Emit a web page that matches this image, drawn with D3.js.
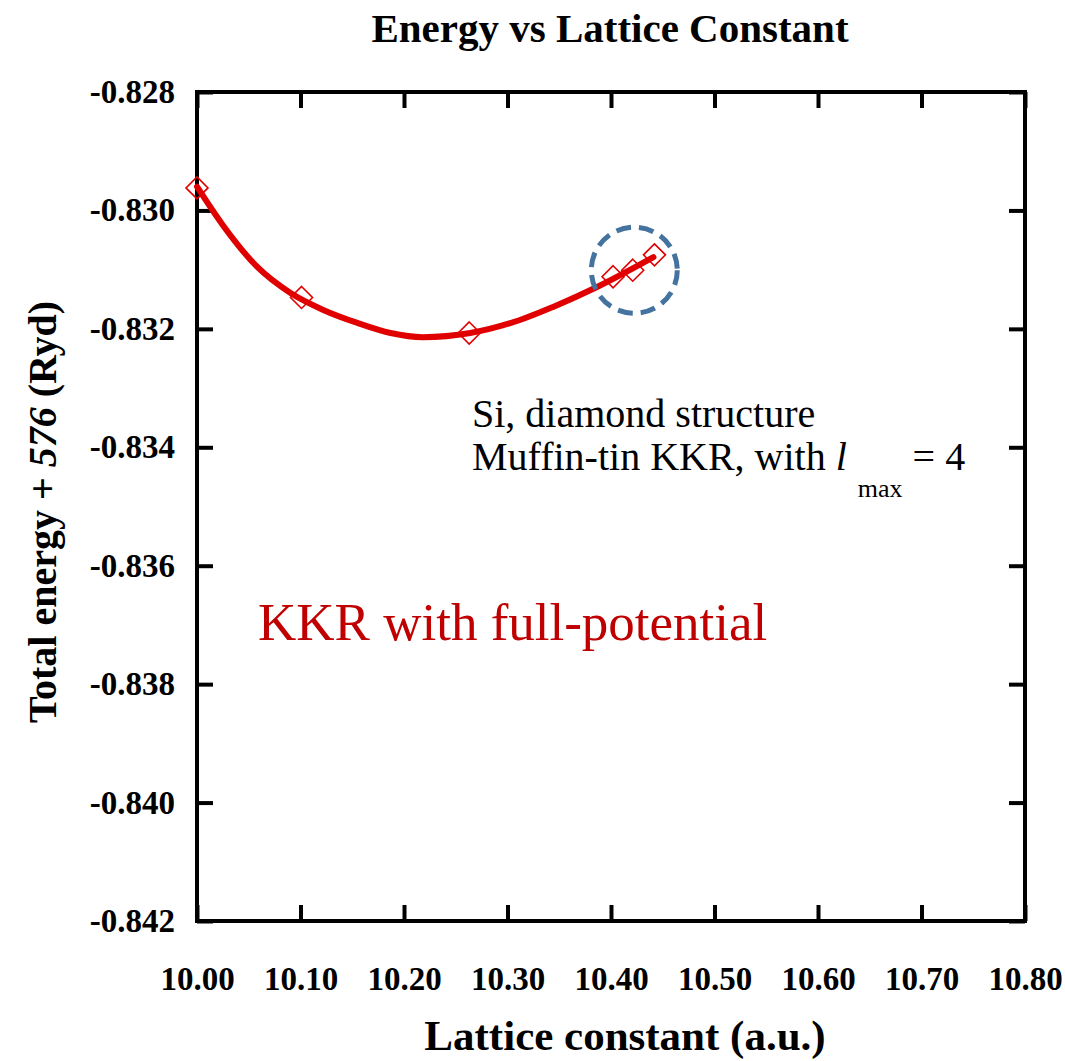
<!DOCTYPE html>
<html>
<head>
<meta charset="utf-8"/>
<title>Energy vs Lattice Constant</title>
<script src="https://d3js.org/d3.v7.min.js"></script>
<style>
  body { margin: 0; background: #fff; }
</style>
</head>
<body>
<svg width="1065" height="1061"></svg>
<script>
var SERIF = "Liberation Serif";

// calculated points (KKR full-potential)
var latticeA = [10.000, 10.101, 10.263, 10.402, 10.421, 10.442];
var energyE = [-0.82962, -0.83147, -0.83207, -0.83112, -0.83101, -0.83075];

// fitted curve
var fitA = [10.000, 10.025, 10.058, 10.090, 10.122, 10.155, 10.187, 10.218, 10.264, 10.312, 10.344, 10.387, 10.441];
var fitE = [-0.82960, -0.83025, -0.83095, -0.83139, -0.83168, -0.83190, -0.83207, -0.83214, -0.83207, -0.83185, -0.83163, -0.83129, -0.83079];

var xTicks = [10.0, 10.1, 10.2, 10.3, 10.4, 10.5, 10.6, 10.7, 10.8];
var yTicks = [-0.828, -0.830, -0.832, -0.834, -0.836, -0.838, -0.840, -0.842];

// highlighted region (centre in data units)
var circA = 10.4225, circE = -0.83101;

var margin = {top: 92, left: 197},
    width = 1025 - margin.left,
    height = 921 - margin.top;

var svg = d3.select("svg");
var g = svg.append("g")
    .attr("transform", "translate(" + margin.left + "," + margin.top + ")");

var x = d3.scaleLinear().domain([10.0, 10.8]).range([0, width]);
var y = d3.scaleLinear().domain([-0.842, -0.828]).range([height, 0]);

function styleAxis(sel) {
  sel.select(".domain").remove();
  sel.selectAll(".tick line").attr("stroke", "#000").attr("stroke-width", 4);
  sel.selectAll(".tick text")
    .style("font-family", SERIF)
    .style("font-weight", "bold")
    .style("font-size", "33px")
    .attr("fill", "#000");
}

function fmt(p) {
  return function(d) { return d3.format(p)(d).replace("\u2212", "-"); };
}

g.append("g")
  .attr("transform", "translate(0," + height + ")")
  .call(d3.axisBottom(x).tickValues(xTicks).tickSize(-16).tickPadding(46).tickFormat(fmt(".2f")))
  .call(styleAxis);
g.append("g")
  .call(d3.axisTop(x).tickValues(xTicks).tickSize(-16).tickFormat(""))
  .call(styleAxis);
g.append("g")
  .call(d3.axisLeft(y).tickValues(yTicks).tickSize(-16).tickPadding(22).tickFormat(fmt(".3f")))
  .call(styleAxis);
g.append("g")
  .attr("transform", "translate(" + width + ",0)")
  .call(d3.axisRight(y).tickValues(yTicks).tickSize(-16).tickFormat(""))
  .call(styleAxis);

// frame
g.append("rect")
  .attr("width", width).attr("height", height)
  .attr("fill", "none").attr("stroke", "#000").attr("stroke-width", 4);

// fit curve
var line = d3.line()
  .x(function(d, i) { return x(fitA[i]); })
  .y(function(d, i) { return y(fitE[i]); })
  .curve(d3.curveMonotoneX);
g.append("path")
  .datum(fitA)
  .attr("d", line)
  .attr("fill", "none")
  .attr("stroke", "#e00000")
  .attr("stroke-width", 6)
  .attr("stroke-linecap", "round");

// diamond markers
var pts = latticeA.map(function(a, i) { return {a: a, e: energyE[i]}; });
g.selectAll(".pt")
  .data(pts)
  .enter().append("path")
  .attr("class", "pt")
  .attr("transform", function(d) { return "translate(" + x(d.a) + "," + y(d.e) + ")"; })
  .attr("d", "M0,-11L11,0L0,11L-11,0Z")
  .attr("fill", "none")
  .attr("stroke", "#e00000")
  .attr("stroke-width", 1.6);

// dashed highlight circle
g.append("circle")
  .attr("cx", x(circA)).attr("cy", y(circE))
  .attr("r", 43)
  .attr("fill", "none")
  .attr("stroke", "#44739f")
  .attr("stroke-width", 5)
  .attr("stroke-dasharray", "15,8");

// annotations
svg.append("text").attr("x", 472).attr("y", 427)
  .style("font-family", SERIF).style("font-size", "40px").attr("fill", "#000")
  .text("Si, diamond structure");
var ann2 = svg.append("text").attr("x", 472).attr("y", 470)
  .style("font-family", SERIF).style("font-size", "40px").attr("fill", "#000");
ann2.append("tspan").text("Muffin-tin KKR, with ");
ann2.append("tspan").style("font-style", "italic").text("l");
ann2.append("tspan").style("font-size", "26px").attr("dx", 11).attr("dy", 27).text("max");
ann2.append("tspan").attr("dy", -27).text(" = 4");

svg.append("text")
  .attr("x", 258).attr("y", 640)
  .style("font-family", SERIF).style("font-size", "53px")
  .attr("fill", "#c00000")
  .text("KKR with full-potential");

// titles
svg.append("text")
  .attr("x", 610).attr("y", 42)
  .attr("text-anchor", "middle")
  .style("font-family", SERIF).style("font-weight", "bold").style("font-size", "41px")
  .text("Energy vs Lattice Constant");

svg.append("text")
  .attr("x", 625).attr("y", 1050)
  .attr("text-anchor", "middle")
  .style("font-family", SERIF).style("font-weight", "bold").style("font-size", "43px")
  .text("Lattice constant (a.u.)");

var yl = svg.append("text")
  .attr("transform", "translate(56,512) rotate(-90)")
  .attr("text-anchor", "middle")
  .style("font-family", SERIF).style("font-weight", "bold").style("font-size", "40px");
yl.append("tspan").text("Total energy + ");
yl.append("tspan").style("font-style", "italic").text("576");
yl.append("tspan").text(" (Ryd)");
</script>
</body>
</html>
